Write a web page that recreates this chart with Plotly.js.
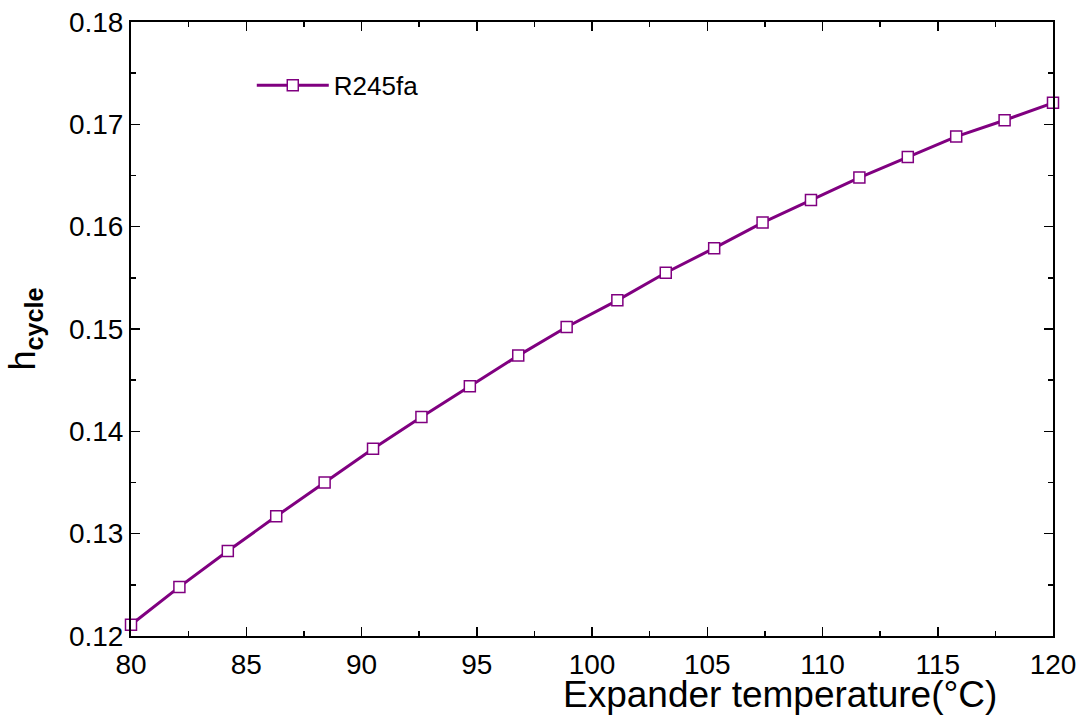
<!DOCTYPE html>
<html>
<head>
<meta charset="utf-8">
<script src="https://cdn.plot.ly/plotly-3.0.1.min.js"></script>
<style>html,body{margin:0;padding:0;background:#fff;}#chart{width:1083px;height:716px;}</style>
</head>
<body>
<div id="chart"></div>
<script>
const seriesName = "R245fa";
const temperature = [80, 82.1, 84.2, 86.3, 88.4, 90.5, 92.6, 94.7, 96.8, 98.9, 101.1, 103.2, 105.3, 107.4, 109.5, 111.6, 113.7, 115.8, 117.9, 120];
const efficiency = [0.1211, 0.1248, 0.1283, 0.1317, 0.1350, 0.1383, 0.1414, 0.1444, 0.1474, 0.1502, 0.1528, 0.1555, 0.1579, 0.1604, 0.1626, 0.1648, 0.1668, 0.1688, 0.1704, 0.1721];
const xTitle = "Expander temperature(°C)";
const yTitle = "h<sub><b>cycle</b></sub>";

const axisCommon = {
  showline: true, linecolor: '#000', linewidth: 2, mirror: 'ticks',
  ticks: 'inside', ticklen: 9, tickwidth: 1.5, tickcolor: '#000',
  showgrid: false, zeroline: false,
  tickfont: {family: 'Arial, Liberation Sans, sans-serif', size: 28, color: '#000'}
};

const data = [{
  x: temperature, y: efficiency, name: seriesName,
  type: 'scatter', mode: 'lines+markers',
  line: {color: '#800080', width: 3},
  marker: {symbol: 'square', size: 11, color: '#ffffff', line: {color: '#800080', width: 1.5}},
  cliponaxis: false
}];

const layout = {
  width: 1083, height: 716,
  margin: {l: 131, r: 30, t: 22, b: 80},
  paper_bgcolor: '#fff', plot_bgcolor: '#fff',
  font: {family: 'Arial, Liberation Sans, sans-serif', color: '#000'},
  xaxis: Object.assign({}, axisCommon, {
    range: [80, 120], tickmode: 'linear', tick0: 80, dtick: 5, ticklabelstandoff: 2,
    minor: {dtick: 2.5, ticks: 'inside', ticklen: 5, tickwidth: 1.5, tickcolor: '#000'}
  }),
  yaxis: Object.assign({}, axisCommon, {
    range: [0.12, 0.18], tickmode: 'linear', tick0: 0.12, dtick: 0.01, tickformat: '.2f',
    minor: {dtick: 0.005, ticks: 'inside', ticklen: 5, tickwidth: 1.5, tickcolor: '#000'},
    title: {text: yTitle, font: {size: 36, color: '#000'}, standoff: 22}
  }),
  showlegend: true,
  legend: {x: 0.131, y: 0.897, xanchor: 'left', yanchor: 'middle', bgcolor: 'rgba(0,0,0,0)',
           font: {size: 26, color: '#000'}, itemwidth: 72},
  annotations: [{
    text: xTitle, xref: 'paper', yref: 'paper', x: 0.704, y: 0, yshift: -58,
    xanchor: 'center', yanchor: 'middle', showarrow: false,
    font: {size: 37, color: '#000'}
  }]
};

Plotly.newPlot('chart', data, layout, {displayModeBar: false, staticPlot: true});
</script>
</body>
</html>
